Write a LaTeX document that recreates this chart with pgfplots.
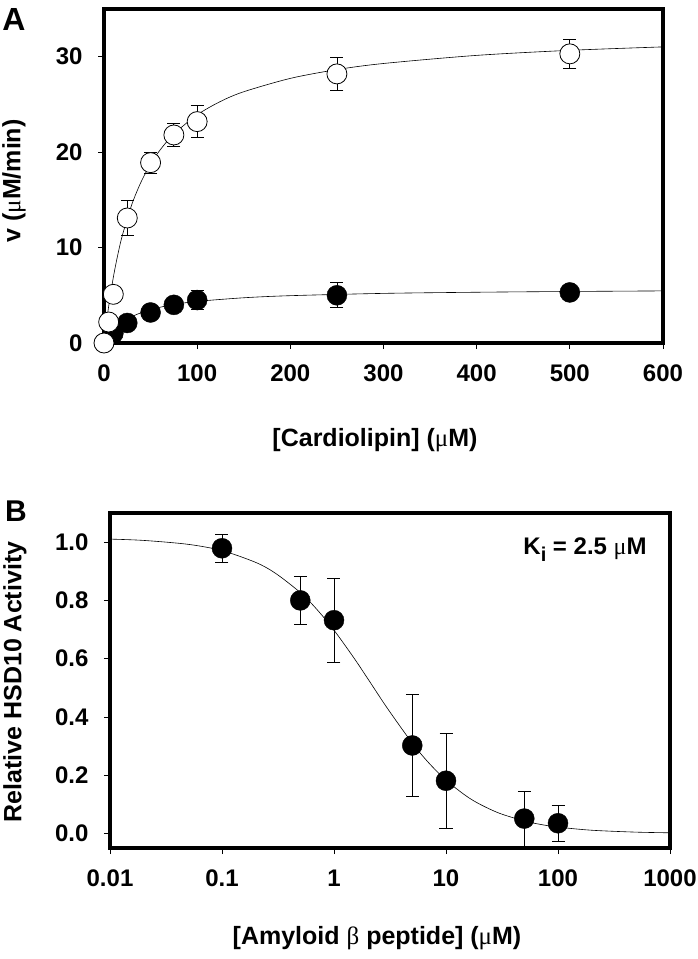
\documentclass[border=0pt]{standalone}
\usepackage{fontspec}
\setmainfont{Liberation Sans}
\newfontfamily\symf{Liberation Serif}
\usepackage{pgfplots}
\pgfplotsset{compat=1.18}
\newcommand{\umu}{{\symf\mdseries μ}}
\pgfplotsset{
  common/.style={
    scale only axis,
    clip=false,
    axis line style={line width=4pt},
    tick pos=left,
    tick align=outside,
    major tick length=6pt,
    tick style={line width=0.8pt, black},
    ticklabel style={font=\fontsize{24}{24}\selectfont\bfseries},
    xticklabel style={yshift=-12pt},
    yticklabel style={xshift=-12pt},
    /pgf/number format/assume math mode=true,
  },
  errpts/.style={only marks, mark=*, mark size=10pt,
    error bars/y dir=both, error bars/y explicit,
    error bars/error bar style={line width=0.8pt, black},
    error bars/error mark options={rotate=90, mark size=6.5pt, line width=0.8pt, black}},
}
\begin{document}
\begin{tikzpicture}[x=1pt,y=1pt]
\path[use as bounding box] (0,0) rectangle (697,-959);

% Panel A
\begin{axis}[common,
  at={(104pt,-343pt)}, anchor=south west,
  width=559pt, height=334pt,
  xmin=0, xmax=600, ymin=0, ymax=35,
  xtick={0,100,200,300,400,500,600},
  ytick={0,10,20,30},
]
% filled circles
\addplot[errpts, mark options={fill=black, draw=black}] coordinates {
  (10,1.0) +- (0,0)
  (25,2.1) +- (0,0.3)
  (50,3.2) +- (0,0.5)
  (75,4.0) +- (0,0.4)
  (100,4.5) +- (0,1.0)
  (250,5.0) +- (0,1.3)
  (500,5.3) +- (0,0.4)
};
% open circles
\addplot[errpts, mark options={fill=white, draw=black, line width=0.8pt}] coordinates {
  (0,0) +- (0,0)
  (5,2.2) +- (0,0.6)
  (10,5.1) +- (0,0.5)
  (25,13.1) +- (0,1.8)
  (50,18.9) +- (0,1.1)
  (75,21.8) +- (0,1.2)
  (100,23.2) +- (0,1.7)
  (250,28.2) +- (0,1.7)
  (500,30.3) +- (0,1.5)
};
% fitted curves
\addplot[black, line width=0.6pt, smooth, no markers] coordinates {
  (0,0) (2,1.65) (5,3.84) (10,6.875) (15,9.34) (20,11.38) (30,14.56)
  (40,16.92) (50,18.75) (60,20.20) (75,21.90) (100,23.91) (125,25.31)
  (150,26.33) (200,27.73) (250,28.65) (300,29.29) (400,30.14)
  (500,30.67) (600,31.03)
};
\addplot[black, line width=0.6pt, smooth, no markers] coordinates {
  (0,0) (5,0.78) (10,1.37) (20,2.21) (30,2.78) (50,3.51) (75,4.03)
  (100,4.36) (150,4.74) (200,4.96) (300,5.20) (400,5.32) (500,5.40)
  (600,5.46)
};
\end{axis}

% Panel B
\begin{axis}[common,
  at={(110pt,-848pt)}, anchor=south west,
  width=560pt, height=335pt,
  xmode=log, log basis x=10,
  xmin=0.01, xmax=1000, ymin=-0.05, ymax=1.1,
  xtick={0.01,0.1,1,10,100,1000},
  xticklabels={0.01,0.1,1,10,100,1000},
  minor xtick={},
  ytick={0,0.2,0.4,0.6,0.8,1.0},
  yticklabel style={/pgf/number format/.cd, fixed, fixed zerofill, precision=1},
]
\addplot[errpts, mark options={fill=black, draw=black}] coordinates {
  (0.1,0.979) +- (0,0.049)
  (0.5,0.80) +- (0,0.081)
  (1,0.732) +- (0,0.144)
  (5,0.302) +- (0,0.176)
  (10,0.181) +- (0,0.162)
  (50,0.051) +- (0,0.095)
  (100,0.035) +- (0,0.061)
};
\addplot[black, line width=0.6pt, smooth, no markers] coordinates {
  (0.01,1.0104) (0.02,1.0059) (0.05,0.9924) (0.1,0.9709) (0.2,0.9304)
  (0.3,0.8932) (0.5,0.8270) (0.7,0.7700) (1,0.6978) (1.5,0.6035)
  (2,0.5317) (3,0.4294) (5,0.3101) (7,0.2427) (10,0.1830) (15,0.1298)
  (20,0.1006) (30,0.0693) (50,0.0428) (70,0.0309) (100,0.0218)
  (200,0.0110) (500,0.00445) (1000,0.00223)
};
\end{axis}

% Labels
\node[font=\fontsize{32}{32}\selectfont\bfseries] at (14,-19) {A};
\node[font=\fontsize{30}{30}\selectfont\bfseries] at (16,-511) {B};
\node[font=\fontsize{25}{25}\selectfont\bfseries] at (375,-440) {[Cardiolipin] (\umu M)};
\node[font=\fontsize{25}{25}\selectfont\bfseries, rotate=90] at (14,-181) {v (\umu M/min)};
\node[font=\fontsize{25}{25}\selectfont\bfseries] at (377,-938) {[Amyloid {\symf\mdseries β} peptide] (\umu M)};
\node[font=\fontsize{25}{25}\selectfont\bfseries, rotate=90] at (15,-682) {Relative HSD10 Activity};
\node[font=\fontsize{24}{24}\selectfont\bfseries] at (585,-550) {K\raisebox{-0.3em}{\fontsize{20}{20}\selectfont i} = 2.5 \umu M};
\end{tikzpicture}
\end{document}
